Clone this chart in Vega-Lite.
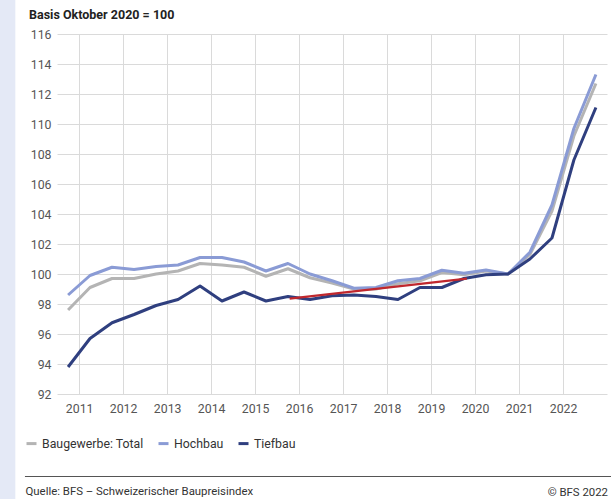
{
  "$schema": "https://vega.github.io/schema/vega-lite/v6.json",
  "width": 550,
  "height": 360,
  "autosize": {"type": "none"},
  "padding": {"left": 57, "top": 34, "right": 4, "bottom": 105},
  "background": "white",
  "config": {"font": "Roboto", "view": {"stroke": null}},
  "title": {"text": "© BFS 2022", "orient": "bottom", "anchor": "end", "frame": "group", "offset": -12, "dx": 1, "fontSize": 11.4, "fontWeight": "normal", "color": "#333333"},
  "datasets": {
    "series": [
      {"date": "2010-10-01", "series": "Baugewerbe: Total", "value": 97.6},
      {"date": "2011-04-01", "series": "Baugewerbe: Total", "value": 99.1},
      {"date": "2011-10-01", "series": "Baugewerbe: Total", "value": 99.7},
      {"date": "2012-04-01", "series": "Baugewerbe: Total", "value": 99.7},
      {"date": "2012-10-01", "series": "Baugewerbe: Total", "value": 100.0},
      {"date": "2013-04-01", "series": "Baugewerbe: Total", "value": 100.2},
      {"date": "2013-10-01", "series": "Baugewerbe: Total", "value": 100.7},
      {"date": "2014-04-01", "series": "Baugewerbe: Total", "value": 100.6},
      {"date": "2014-10-01", "series": "Baugewerbe: Total", "value": 100.45},
      {"date": "2015-04-01", "series": "Baugewerbe: Total", "value": 99.85},
      {"date": "2015-10-01", "series": "Baugewerbe: Total", "value": 100.35},
      {"date": "2016-04-01", "series": "Baugewerbe: Total", "value": 99.75},
      {"date": "2016-10-01", "series": "Baugewerbe: Total", "value": 99.4},
      {"date": "2017-04-01", "series": "Baugewerbe: Total", "value": 99.0},
      {"date": "2017-10-01", "series": "Baugewerbe: Total", "value": 99.0},
      {"date": "2018-04-01", "series": "Baugewerbe: Total", "value": 99.35},
      {"date": "2018-10-01", "series": "Baugewerbe: Total", "value": 99.55},
      {"date": "2019-04-01", "series": "Baugewerbe: Total", "value": 100.1},
      {"date": "2019-10-01", "series": "Baugewerbe: Total", "value": 99.95},
      {"date": "2020-04-01", "series": "Baugewerbe: Total", "value": 100.2},
      {"date": "2020-10-01", "series": "Baugewerbe: Total", "value": 100.0},
      {"date": "2021-04-01", "series": "Baugewerbe: Total", "value": 101.3},
      {"date": "2021-10-01", "series": "Baugewerbe: Total", "value": 104.2},
      {"date": "2022-04-01", "series": "Baugewerbe: Total", "value": 109.2},
      {"date": "2022-10-01", "series": "Baugewerbe: Total", "value": 112.7},
      {"date": "2010-10-01", "series": "Hochbau", "value": 98.6},
      {"date": "2011-04-01", "series": "Hochbau", "value": 99.9},
      {"date": "2011-10-01", "series": "Hochbau", "value": 100.45},
      {"date": "2012-04-01", "series": "Hochbau", "value": 100.3},
      {"date": "2012-10-01", "series": "Hochbau", "value": 100.5},
      {"date": "2013-04-01", "series": "Hochbau", "value": 100.6},
      {"date": "2013-10-01", "series": "Hochbau", "value": 101.1},
      {"date": "2014-04-01", "series": "Hochbau", "value": 101.1},
      {"date": "2014-10-01", "series": "Hochbau", "value": 100.8},
      {"date": "2015-04-01", "series": "Hochbau", "value": 100.2},
      {"date": "2015-10-01", "series": "Hochbau", "value": 100.7},
      {"date": "2016-04-01", "series": "Hochbau", "value": 100.0},
      {"date": "2016-10-01", "series": "Hochbau", "value": 99.55},
      {"date": "2017-04-01", "series": "Hochbau", "value": 99.05},
      {"date": "2017-10-01", "series": "Hochbau", "value": 99.1},
      {"date": "2018-04-01", "series": "Hochbau", "value": 99.55},
      {"date": "2018-10-01", "series": "Hochbau", "value": 99.7},
      {"date": "2019-04-01", "series": "Hochbau", "value": 100.25},
      {"date": "2019-10-01", "series": "Hochbau", "value": 100.05},
      {"date": "2020-04-01", "series": "Hochbau", "value": 100.27},
      {"date": "2020-10-01", "series": "Hochbau", "value": 100.0},
      {"date": "2021-04-01", "series": "Hochbau", "value": 101.45},
      {"date": "2021-10-01", "series": "Hochbau", "value": 104.6},
      {"date": "2022-04-01", "series": "Hochbau", "value": 109.7},
      {"date": "2022-10-01", "series": "Hochbau", "value": 113.3},
      {"date": "2010-10-01", "series": "Tiefbau", "value": 93.8},
      {"date": "2011-04-01", "series": "Tiefbau", "value": 95.7},
      {"date": "2011-10-01", "series": "Tiefbau", "value": 96.75},
      {"date": "2012-04-01", "series": "Tiefbau", "value": 97.3},
      {"date": "2012-10-01", "series": "Tiefbau", "value": 97.9},
      {"date": "2013-04-01", "series": "Tiefbau", "value": 98.3},
      {"date": "2013-10-01", "series": "Tiefbau", "value": 99.2},
      {"date": "2014-04-01", "series": "Tiefbau", "value": 98.2},
      {"date": "2014-10-01", "series": "Tiefbau", "value": 98.8},
      {"date": "2015-04-01", "series": "Tiefbau", "value": 98.2},
      {"date": "2015-10-01", "series": "Tiefbau", "value": 98.5},
      {"date": "2016-04-01", "series": "Tiefbau", "value": 98.3},
      {"date": "2016-10-01", "series": "Tiefbau", "value": 98.55},
      {"date": "2017-04-01", "series": "Tiefbau", "value": 98.6},
      {"date": "2017-10-01", "series": "Tiefbau", "value": 98.5},
      {"date": "2018-04-01", "series": "Tiefbau", "value": 98.3},
      {"date": "2018-10-01", "series": "Tiefbau", "value": 99.1},
      {"date": "2019-04-01", "series": "Tiefbau", "value": 99.1},
      {"date": "2019-10-01", "series": "Tiefbau", "value": 99.7},
      {"date": "2020-04-01", "series": "Tiefbau", "value": 99.95},
      {"date": "2020-10-01", "series": "Tiefbau", "value": 100.0},
      {"date": "2021-04-01", "series": "Tiefbau", "value": 101.0},
      {"date": "2021-10-01", "series": "Tiefbau", "value": 102.4},
      {"date": "2022-04-01", "series": "Tiefbau", "value": 107.6},
      {"date": "2022-10-01", "series": "Tiefbau", "value": 111.1}
    ],
    "trend": [
      {"date": "2015-10-15", "value": 98.36},
      {"date": "2019-10-25", "value": 99.69}
    ],
    "strip": [
      {"start": "2009-03-06", "end": "2009-07-20", "top": 118.2667, "bottom": 85}
    ],
    "footer": [
      {"start": "2009-10-08", "end": "2023-02-05", "value": 86.5}
    ]
  },
  "layer": [
    {
      "data": {"name": "series"},
      "mark": {"type": "line", "strokeWidth": 3, "strokeJoin": "round", "strokeCap": "butt"},
      "encoding": {
        "x": {
          "field": "date", "type": "temporal",
          "scale": {"domain": ["2010-07-01", "2023-01-01"], "nice": false},
          "axis": {
            "values": ["2011-01-01", "2012-01-01", "2013-01-01", "2014-01-01", "2015-01-01", "2016-01-01", "2017-01-01", "2018-01-01", "2019-01-01", "2020-01-01", "2021-01-01", "2022-01-01"],
            "tickCount": 20,
            "format": "%Y", "grid": true, "gridColor": "#dadada", "ticks": false, "domain": false,
            "labelFontSize": 12.3, "labelColor": "#555555", "labelPadding": 8, "labelOverlap": false,
            "title": "Quelle: BFS – Schweizerischer Baupreisindex",
            "titleX": -32, "titleY": 100, "titleAlign": "left", "titleAnchor": null, "titleBaseline": "alphabetic",
            "titleFontSize": 11.4, "titleFontWeight": "normal", "titleColor": "#333333"
          }
        },
        "y": {
          "field": "value", "type": "quantitative",
          "scale": {"domain": [92, 116], "nice": false, "zero": false},
          "axis": {
            "values": [92, 94, 96, 98, 100, 102, 104, 106, 108, 110, 112, 114, 116],
            "tickCount": 20,
            "grid": true, "gridColor": "#dadada", "ticks": false, "domain": false,
            "labelFontSize": 12.3, "labelColor": "#555555", "labelPadding": 6, "labelOverlap": false,
            "title": "Basis Oktober 2020 = 100",
            "titleAngle": 0, "titleX": -28.5, "titleY": -15.5, "titleAlign": "left", "titleAnchor": null, "titleBaseline": "alphabetic",
            "titleFontSize": 12.5, "titleFontWeight": "bold", "titleColor": "#222222"
          }
        },
        "color": {
          "field": "series", "type": "nominal",
          "scale": {"domain": ["Baugewerbe: Total", "Hochbau", "Tiefbau"], "range": ["#b4b4b4", "#8a9bd5", "#2f3f7f"]},
          "legend": {
            "orient": "none", "legendX": -32, "legendY": 403, "direction": "horizontal", "title": null,
            "symbolType": "stroke", "symbolStrokeWidth": 3, "symbolSize": 100,
            "labelFontSize": 12.3, "labelColor": "#333333", "columnPadding": 8, "labelOffset": 4
          }
        }
      }
    },
    {
      "data": {"name": "trend"},
      "mark": {"type": "line", "color": "#c0272d", "strokeWidth": 2.2},
      "encoding": {
        "x": {"field": "date", "type": "temporal"},
        "y": {"field": "value", "type": "quantitative"}
      }
    },
    {
      "data": {"name": "strip"},
      "mark": {"type": "rect", "color": "#e4e9f6", "clip": false},
      "encoding": {
        "x": {"field": "start", "type": "temporal"},
        "x2": {"field": "end"},
        "y": {"field": "top", "type": "quantitative"},
        "y2": {"field": "bottom"}
      }
    },
    {
      "data": {"name": "footer"},
      "mark": {"type": "rule", "color": "#555555", "strokeWidth": 1, "clip": false},
      "encoding": {
        "x": {"field": "start", "type": "temporal"},
        "x2": {"field": "end"},
        "y": {"field": "value", "type": "quantitative"}
      }
    }
  ]
}
